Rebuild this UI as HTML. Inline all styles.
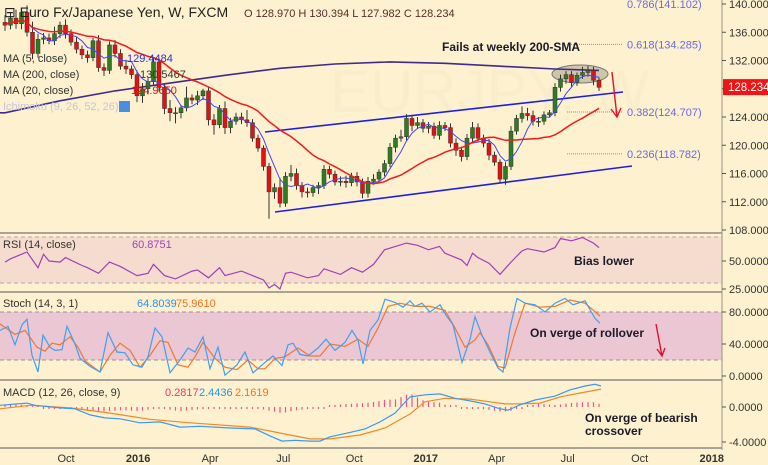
<!DOCTYPE html>
<html><head><meta charset="utf-8">
<style>
html,body{margin:0;padding:0;background:#fdf1cf;}
svg{display:block;font-family:"Liberation Sans",sans-serif;}
</style></head>
<body>
<svg id="chart" width="768" height="465" viewBox="0 0 768 465">
<rect x="0" y="0" width="768" height="465" fill="#fdf1cf"/>
<text x="330" y="112" font-size="60" fill="#faedcb">EURJPY, W</text>
<rect x="0" y="237" width="722" height="46" fill="#f5dccf"/>
<rect x="0" y="312" width="722" height="48" fill="#ebc6d3"/>
<g id="grid"></g>
<g id="main"></g>
<g id="ind"></g>
<g id="axes"></g>
</svg>
<script>
const closes=[137.0,138.0,137.2,138.8,136.0,133.0,135.0,135.2,134.8,135.8,137.0,135.8,134.6,133.6,132.8,132.4,134.8,131.0,130.6,134.2,
133.0,131.2,130.8,130.0,127.0,128.0,129.0,131.8,128.2,125.2,124.6,124.6,125.3,126.7,126.4,127.0,127.7,123.6,122.9,125.2,
122.5,123.4,124.0,123.6,123.2,121.0,119.6,117.0,113.4,114.0,111.8,115.6,116.0,114.3,113.4,113.3,114.0,114.3,116.6,115.9,
114.8,114.9,114.7,115.6,114.8,113.2,114.9,115.2,116.2,117.4,119.7,121.0,121.2,123.8,122.8,123.2,122.4,122.7,121.4,122.8,
122.5,120.3,119.3,118.4,121.0,122.5,121.0,120.3,118.6,117.6,115.2,117.0,122.0,123.8,124.5,124.2,123.4,123.4,124.3,124.6,
128.2,129.4,130.0,128.9,129.9,130.3,130.6,129.2,128.2];
const upWick=[1.0,0.8,1.2,0.6,1.0,1.5,0.8,0.7,0.6,1.0,0.5,0.8,0.6,0.7,0.5,0.6,0.4,0.8,0.6,0.5,
0.7,0.6,0.9,0.5,0.6,0.8,0.5,0.6,0.5,0.4,1.2,0.8,0.4,1.6,0.5,0.7,0.3,0.6,0.8,0.5,
1.0,0.5,0.6,0.6,1.4,0.5,0.5,0.4,0.5,0.6,1.4,0.6,1.2,0.7,0.5,0.6,0.4,0.5,0.6,0.5,
0.5,0.7,0.8,0.5,0.6,0.5,0.6,0.7,0.4,0.5,0.6,0.5,1.0,0.6,0.5,0.8,0.5,0.6,0.5,0.6,
0.5,0.6,0.7,0.5,0.6,0.8,0.6,0.5,0.6,0.5,0.4,0.6,0.7,0.5,1.0,0.8,0.7,0.6,0.5,0.4,
0.6,0.6,0.5,0.5,0.4,0.8,0.6,0.5,0.4];
const downWick=[0.8,0.6,0.7,0.8,0.6,0.8,0.6,0.7,0.5,0.6,0.6,0.7,0.5,0.6,0.6,0.7,0.5,0.6,0.8,0.5,
0.6,0.5,0.7,0.6,0.9,1.0,0.8,0.5,0.6,0.8,1.2,1.5,0.8,0.5,0.6,0.7,0.6,0.8,1.4,0.5,
0.9,0.8,0.5,0.6,0.6,0.5,0.5,0.6,3.8,1.0,0.6,0.5,0.7,0.6,0.8,0.7,0.6,0.9,0.5,0.6,
0.5,0.6,0.7,0.5,0.6,0.7,0.6,0.5,0.5,0.6,0.5,0.7,0.5,0.6,0.8,0.5,0.6,0.7,0.5,0.6,
0.5,0.6,0.8,0.7,0.5,0.6,0.5,0.6,0.7,0.5,0.6,0.8,0.5,0.5,0.6,0.7,0.6,0.8,0.5,0.4,
0.5,0.6,0.7,0.6,0.5,0.5,0.6,0.7,0.5];
const firstOpen=137.4;
const ma200Weeks=[0,10,20,30,40,50,60,70,80,90,100,108];
const ma200Values=[124.6,126.3,127.7,128.8,129.9,130.9,131.5,131.8,131.6,131.2,130.8,130.6];
const rsiWeeks=[0,1,4,6,7,8,10,11,14,15,17,19,21,24,26,27,29,31,34,35,37,39,40,43,45,47,48,49,50,51,52,55,57,58,61,63,65,67,69,71,73,75,77,79,80,83,84,85,86,88,90,92,94,95,98,100,101,103,105,107,108];
const rsiValues=[49,52,58,44,56,50,49,53,46,44,39,49,45,37,39,47,37,34,41,42,35,44,37,41,37,33,26,29,25,39,40,35,37,43,38,44,40,47,60,63,66,64,60,63,57,51,46,57,53,48,38,49,59,61,58,62,70,68,71,66,62];
const stochKX=[0,8,15,22,27,32,38,43,50,55,62,67,75,80,90,100,108,117,125,133,142,148,155,162,170,180,188,195,203,210,218,225,237,245,253,265,273,282,288,293,300,308,318,326,335,345,352,358,363,370,378,385,395,403,410,415,422,430,440,446,453,462,470,475,482,490,498,503,510,517,525,535,545,555,565,573,585,595,600];
const stochK=[57,62,39,64,71,26,5,51,36,32,33,62,40,22,12,5,54,30,29,14,11,24,60,49,4,20,35,30,49,9,36,1,14,30,4,17,25,13,39,41,27,25,35,46,32,42,57,45,15,57,70,96,92,86,94,87,91,80,89,76,64,17,46,74,51,30,10,5,60,97,91,89,80,91,97,89,94,72,66];
const stochDX=[0,15,25,37,45,52,60,70,78,85,100,110,120,130,140,150,160,168,178,188,195,203,215,225,237,248,258,265,275,285,298,310,320,330,345,358,368,378,388,400,415,430,445,455,465,475,480,488,498,505,515,525,540,555,570,585,600];
const stochD=[65,52,57,36,31,41,39,49,36,19,5,26,41,32,11,26,44,42,14,11,24,42,22,11,8,20,9,9,22,24,35,25,25,40,37,46,37,60,87,91,87,87,82,60,36,45,54,39,12,10,54,91,86,87,95,91,75];
const macdX=[0,27,35,60,75,90,105,120,140,160,180,200,230,255,270,282,295,310,320,330,350,365,380,395,410,425,440,455,470,485,500,508,520,535,555,570,585,595,601];
const macdVals=[0.2,0.45,0.2,-0.1,-0.2,-0.9,-1.25,-1.35,-1.8,-1.7,-2.3,-2.2,-2.4,-2.5,-3.3,-3.9,-3.8,-3.9,-3.9,-3.4,-2.9,-2.5,-1.7,-0.7,1.15,1.4,1.5,1.0,0.7,0.35,-0.2,-0.35,0.25,0.8,1.25,1.95,2.4,2.6,2.4];
const signalX=[0,30,70,110,150,190,250,290,310,330,360,385,410,425,445,470,490,505,520,540,560,580,601];
const signalVals=[-0.2,0.2,-0.1,-0.7,-1.4,-1.8,-2.3,-3.2,-3.65,-3.65,-3.2,-2.4,-0.8,0.6,1.0,0.9,0.6,0.35,0.35,0.45,1.15,1.6,2.05];
const priceTicks=[140,136,132,128,124,120,116,112,108];
const rsiTicks=[50,25];
const stochTicks=[80,40,0];
const macdTicks=[0,-4];
const timeLabels=["Oct","2016","Apr","Jul","Oct","2017","Apr","Jul","Oct","2018"];
const timeWeeks=[11.1,24.2,37.3,50.6,63.5,76.5,89.4,102.3,115.4,128.5];
const fibLevels=[0.786,0.618,0.382,0.236];
const fibPrices=[141.102,134.285,124.707,118.782];

const NS="http://www.w3.org/2000/svg";
function mk(tag,attrs,parent,txt){const e=document.createElementNS(NS,tag);for(const k in attrs)e.setAttribute(k,attrs[k]);if(txt!==undefined)e.textContent=txt;(parent||document.getElementById('chart')).appendChild(e);return e;}
const xW=i=>5+5.5*i;
const yP=p=>4+(140-p)*7.0625;
const yR=r=>261-(r-50)*1.12;
const yS=s=>376-s*0.8;
const yM=m=>407-m*8.75;
const gMain=document.getElementById('main'),gInd=document.getElementById('ind'),gAx=document.getElementById('axes'),gGrid=document.getElementById('grid');

[237,283].forEach(function(v){const l=mk('line',{x1:0,x2:722,y1:v,y2:v,stroke:'#b9a4a4','stroke-dasharray':'4 3'},gGrid);

});
[yS(80),yS(20)].forEach(function(v){const l=mk('line',{x1:0,x2:722,y1:v,y2:v,stroke:'#a08c9c','stroke-dasharray':'4 3'},gGrid);

});

fibPrices.forEach(function(p,k){
 if(k>0){const l=mk('line',{x1:567,x2:623,y1:yP(p),y2:yP(p),stroke:'#8a8ae0','stroke-dasharray':'1 1'},gMain);
 
 }
 const t=mk('text',{x:627,y:Math.max(yP(p)+4+(k==0?2:0),8),'font-size':11,fill:'#6a6ae0'},gMain,fibLevels[k]+'('+p.toFixed(3)+')');
 
 
});

[[265,132,623,92],[275,212,632,166]].forEach(function(c,k){const l=mk('line',{x1:c[0],y1:c[1],x2:c[2],y2:c[3],stroke:'#1f1fe0','stroke-width':1.6},gMain);

});

const el=mk('ellipse',{cx:580,cy:74,rx:28,ry:9,fill:'#aaa08a','fill-opacity':0.55,stroke:'#777','stroke-width':1},gMain);



let d='';ma200Weeks.forEach((w,k)=>{d+='L'+xW(w).toFixed(1)+' '+yP(ma200Values[k]).toFixed(1);});
const pth=mk('path',{d:'M0 '+yP(ma200Values[0]).toFixed(1)+' '+d,fill:'none',stroke:'#3d2c8c','stroke-width':1.6},gMain);



const opens=closes.map((c,i)=>i?closes[i-1]:firstOpen);
closes.forEach(function(c,i){
 const o=opens[i],hi=Math.max(o,c)+upWick[i],lo=Math.min(o,c)-downWick[i];
 const up=c>=o,col=up?'#2f7d1f':'#e51010',x=xW(i);
 const g=mk('g',{},gMain);
 
 
 mk('line',{x1:x,x2:x,y1:yP(hi),y2:yP(lo),stroke:'#333','stroke-width':1},g);
 const top=yP(Math.max(o,c)),h=Math.max(1,yP(Math.min(o,c))-top);
 mk('rect',{x:x-2,y:top,width:4,height:h,fill:col,stroke:'#333','stroke-width':0.5},g);
});
function ma(n){return closes.map((c,i)=>{const s=Math.max(0,i-n+1);let t=0;for(let j=s;j<=i;j++)t+=closes[j];return t/(i-s+1);});}
function line(vals,xf,yf,col,w,name,parent){let dd='';vals.forEach((v,k)=>{dd+=(k?'L':'M')+xf(k).toFixed(1)+' '+yf(v).toFixed(1);});const p=mk('path',{d:dd,fill:'none',stroke:col,'stroke-width':w},parent);return p;}
const m5=ma(5),m20=ma(20);
const l5=line(m5,xW,yP,'#4646f0',1,'ma5-line',gMain);

const l20=line(m20,xW,yP,'#ee1c1c',1.5,'ma20-line',gMain);


const ar=mk('path',{d:'M612 72 L617 117 M611 109 L617 117 L621 108',fill:'none',stroke:'#e01030','stroke-width':1.4},gMain);



const rl=line(rsiValues,k=>xW(rsiWeeks[k]),yR,'#a040b8',1.2,'rsi-line',gInd);

const sd=line(stochD,k=>stochDX[k],yS,'#f07830',1.2,'stoch-d-line',gInd);

const sk=line(stochK,k=>stochKX[k],yS,'#40a0f0',1.2,'stoch-k-line',gInd);

function interp(xs,vs,x){if(x<=xs[0])return vs[0];for(let k=1;k<xs.length;k++){if(x<=xs[k]){const t=(x-xs[k-1])/(xs[k]-xs[k-1]);return vs[k-1]+t*(vs[k]-vs[k-1]);}}return vs[vs.length-1];}
closes.forEach(function(c,i){const x=xW(i);const h=interp(macdX,macdVals,x)-interp(signalX,signalVals,x);
 let y1=yM(0),y2=yM(h*0.8);if(Math.abs(y2-y1)<2)y2=y1+(h>=0?-2:2);
 const b=mk('line',{x1:x,x2:x,y1:y1,y2:y2,stroke:'#f0508c','stroke-width':1.2},gInd);
 
 });
const sg=line(signalVals,k=>signalX[k],yM,'#f08a24',1.2,'macd-signal-line',gInd);

const ml=line(macdVals,k=>macdX[k],yM,'#3a9af0',1.2,'macd-line',gInd);


[233,292,380,448].forEach(function(y){const l=mk('line',{x1:0,x2:722,y1:y,y2:y,stroke:'#aaa294','stroke-width':2},gAx);

});
const ax=mk('line',{x1:722,x2:722,y1:0,y2:450,stroke:'#9a9486','stroke-width':1},gAx);


function tick(y,label,dec,name){mk('line',{x1:722,x2:726,y1:y,y2:y,stroke:'#555'},gAx);
 const t=mk('text',{x:729,y:y+4,'font-size':11,fill:'#333'},gAx,label.toFixed(dec));
 
 }
priceTicks.forEach(p=>tick(yP(p),p,3,'price-tick-label'));
rsiTicks.forEach(p=>tick(yR(p),p,4,'rsi-tick-label'));
stochTicks.forEach(p=>tick(yS(p),p,4,'stoch-tick-label'));
macdTicks.forEach(p=>tick(yM(p),p,4,'macd-tick-label'));
timeLabels.forEach(function(s,k){const bold=/^20/.test(s);
 const t=mk('text',{x:xW(timeWeeks[k]),y:462,'font-size':11,fill:'#333','text-anchor':'middle','font-weight':bold?'bold':'normal'},gAx,s);
 
 });
const tag=mk('rect',{x:723,y:yP(128.234)-8,width:45,height:16,fill:'#f01414'},gAx);


const tt=mk('text',{x:728,y:yP(128.234)+4,'font-size':11.5,fill:'#fff'},gAx,'128.234');


</script>
<svg style="position:absolute;left:0;top:0" width="768" height="465">
<text x="4" y="17" font-size="14" fill="#222" font-family="Liberation Sans,sans-serif">⊟ Euro Fx/Japanese Yen, W, FXCM</text>
<text x="244" y="17" font-size="11" fill="#5a2a2a" font-family="Liberation Sans,sans-serif">O 128.970 H 130.394 L 127.982 C 128.234</text>
<g font-family="Liberation Sans,sans-serif" font-size="11">
<text x="3" y="62" fill="#333">MA (5, close)</text>
<text x="127" y="62" fill="#2a2ae0">129.4484</text>
<text x="3" y="78" fill="#333">MA (200, close)</text>
<text x="140" y="78" fill="#333">130.5467</text>
<text x="3" y="94" fill="#333">MA (20, close)</text>
<text x="131" y="94" fill="#e01010">124.9650</text>
<text x="3" y="110" fill="#c8c4d8">Ichimoku (9, 26, 52, 26)</text>
<rect x="119" y="101" width="11" height="11" fill="#4a8ee0"/>
<text x="3" y="248" fill="#333">RSI (14, close)</text>
<text x="132" y="248" fill="#a040b8">60.8751</text>
<text x="3" y="307" fill="#333">Stoch (14, 3, 1)</text>
<text x="137" y="307" fill="#2a90f0">64.8039</text>
<text x="176" y="307" fill="#f07020">75.9610</text>
<text x="3" y="396" fill="#333">MACD (12, 26, close, 9)</text>
<text x="165" y="396" fill="#f0307a">0.2817</text>
<text x="199" y="396" fill="#2a90f0">2.4436</text>
<text x="235" y="396" fill="#f07020">2.1619</text>
</g>
<g font-family="Liberation Sans,sans-serif" font-size="12" font-weight="bold" fill="#1a1a2a">
<text x="442" y="51">Fails at weekly 200-SMA</text>
<text x="574" y="265">Bias lower</text>
<text x="530" y="337">On verge of rollover</text>
<text x="585" y="422">On verge of bearish</text>
<text x="585" y="435">crossover</text>
</g>
<path d="M656 324 L662 356 M657 349 L662 356 L665 348" fill="none" stroke="#e01030" stroke-width="1.4"/>
</svg>
</body></html>
